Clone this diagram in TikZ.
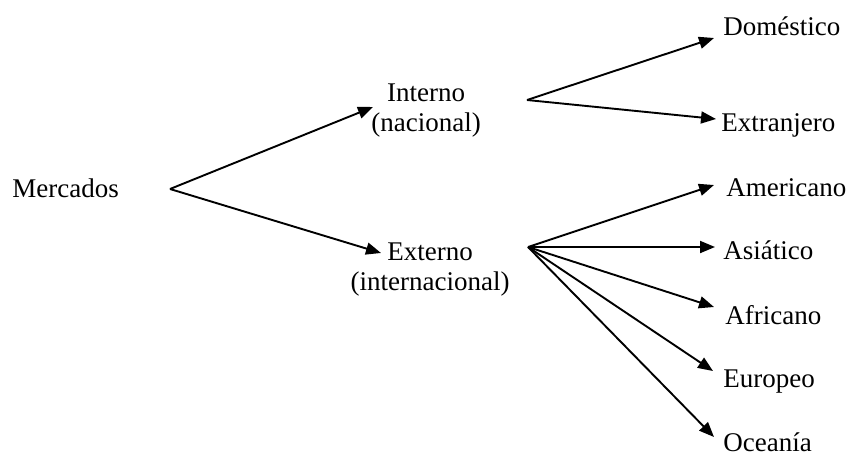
\documentclass[tikz,border=0pt]{standalone}
\usepackage{fontspec}
\setmainfont{Liberation Serif}
\usetikzlibrary{arrows.meta}
\begin{document}
\begin{tikzpicture}[x=0.5pt,y=-0.5pt,
  lbl/.style={inner sep=0pt, font=\fontsize{13.5pt}{15pt}\selectfont},
  leaf/.style={lbl, anchor=base west},
  mid/.style={lbl, align=center, anchor=center},
  arr/.style={line width=0.95pt, -{Triangle[length=7.5pt,width=6pt]}}]
\useasboundingbox (0,0) rectangle (850,455);
% labels
\node[leaf] (merc) at (12,197) {Mercados};
\node[mid] (int) at (426,110.5) {Interno\\(nacional)};
\node[mid] (ext) at (430,269.5) {Externo\\(internacional)};
\node[leaf] (dom) at (723,35) {Doméstico};
\node[leaf] (extr) at (721,131) {Extranjero};
\node[leaf] (am) at (726,196) {Americano};
\node[leaf] (as) at (723,259) {Asiático};
\node[leaf] (af) at (725,324) {Africano};
\node[leaf] (eu) at (723,387) {Europeo};
\node[leaf] (oc) at (723,451) {Oceanía};
% fork points and arrow tips
\coordinate (f0) at (170,189);
\coordinate (f1) at (527,100);
\coordinate (f2) at (528,247);
\coordinate (tint) at (373,107);
\coordinate (text) at (381,253);
\coordinate (tdom) at (714,38);
\coordinate (textr) at (716,119);
\coordinate (tam) at (714,185);
\coordinate (tas) at (715,247);
\coordinate (taf) at (714,307);
\coordinate (teu) at (713,371);
\coordinate (toc) at (714,437);
% connectors
\draw[arr] (f0) -- (tint);
\draw[arr] (f0) -- (text);
\draw[arr] (f1) -- (tdom);
\draw[arr] (f1) -- (textr);
\draw[arr] (f2) -- (tam);
\draw[arr] (f2) -- (tas);
\draw[arr] (f2) -- (taf);
\draw[arr] (f2) -- (teu);
\draw[arr] (f2) -- (toc);
\end{tikzpicture}
\end{document}
